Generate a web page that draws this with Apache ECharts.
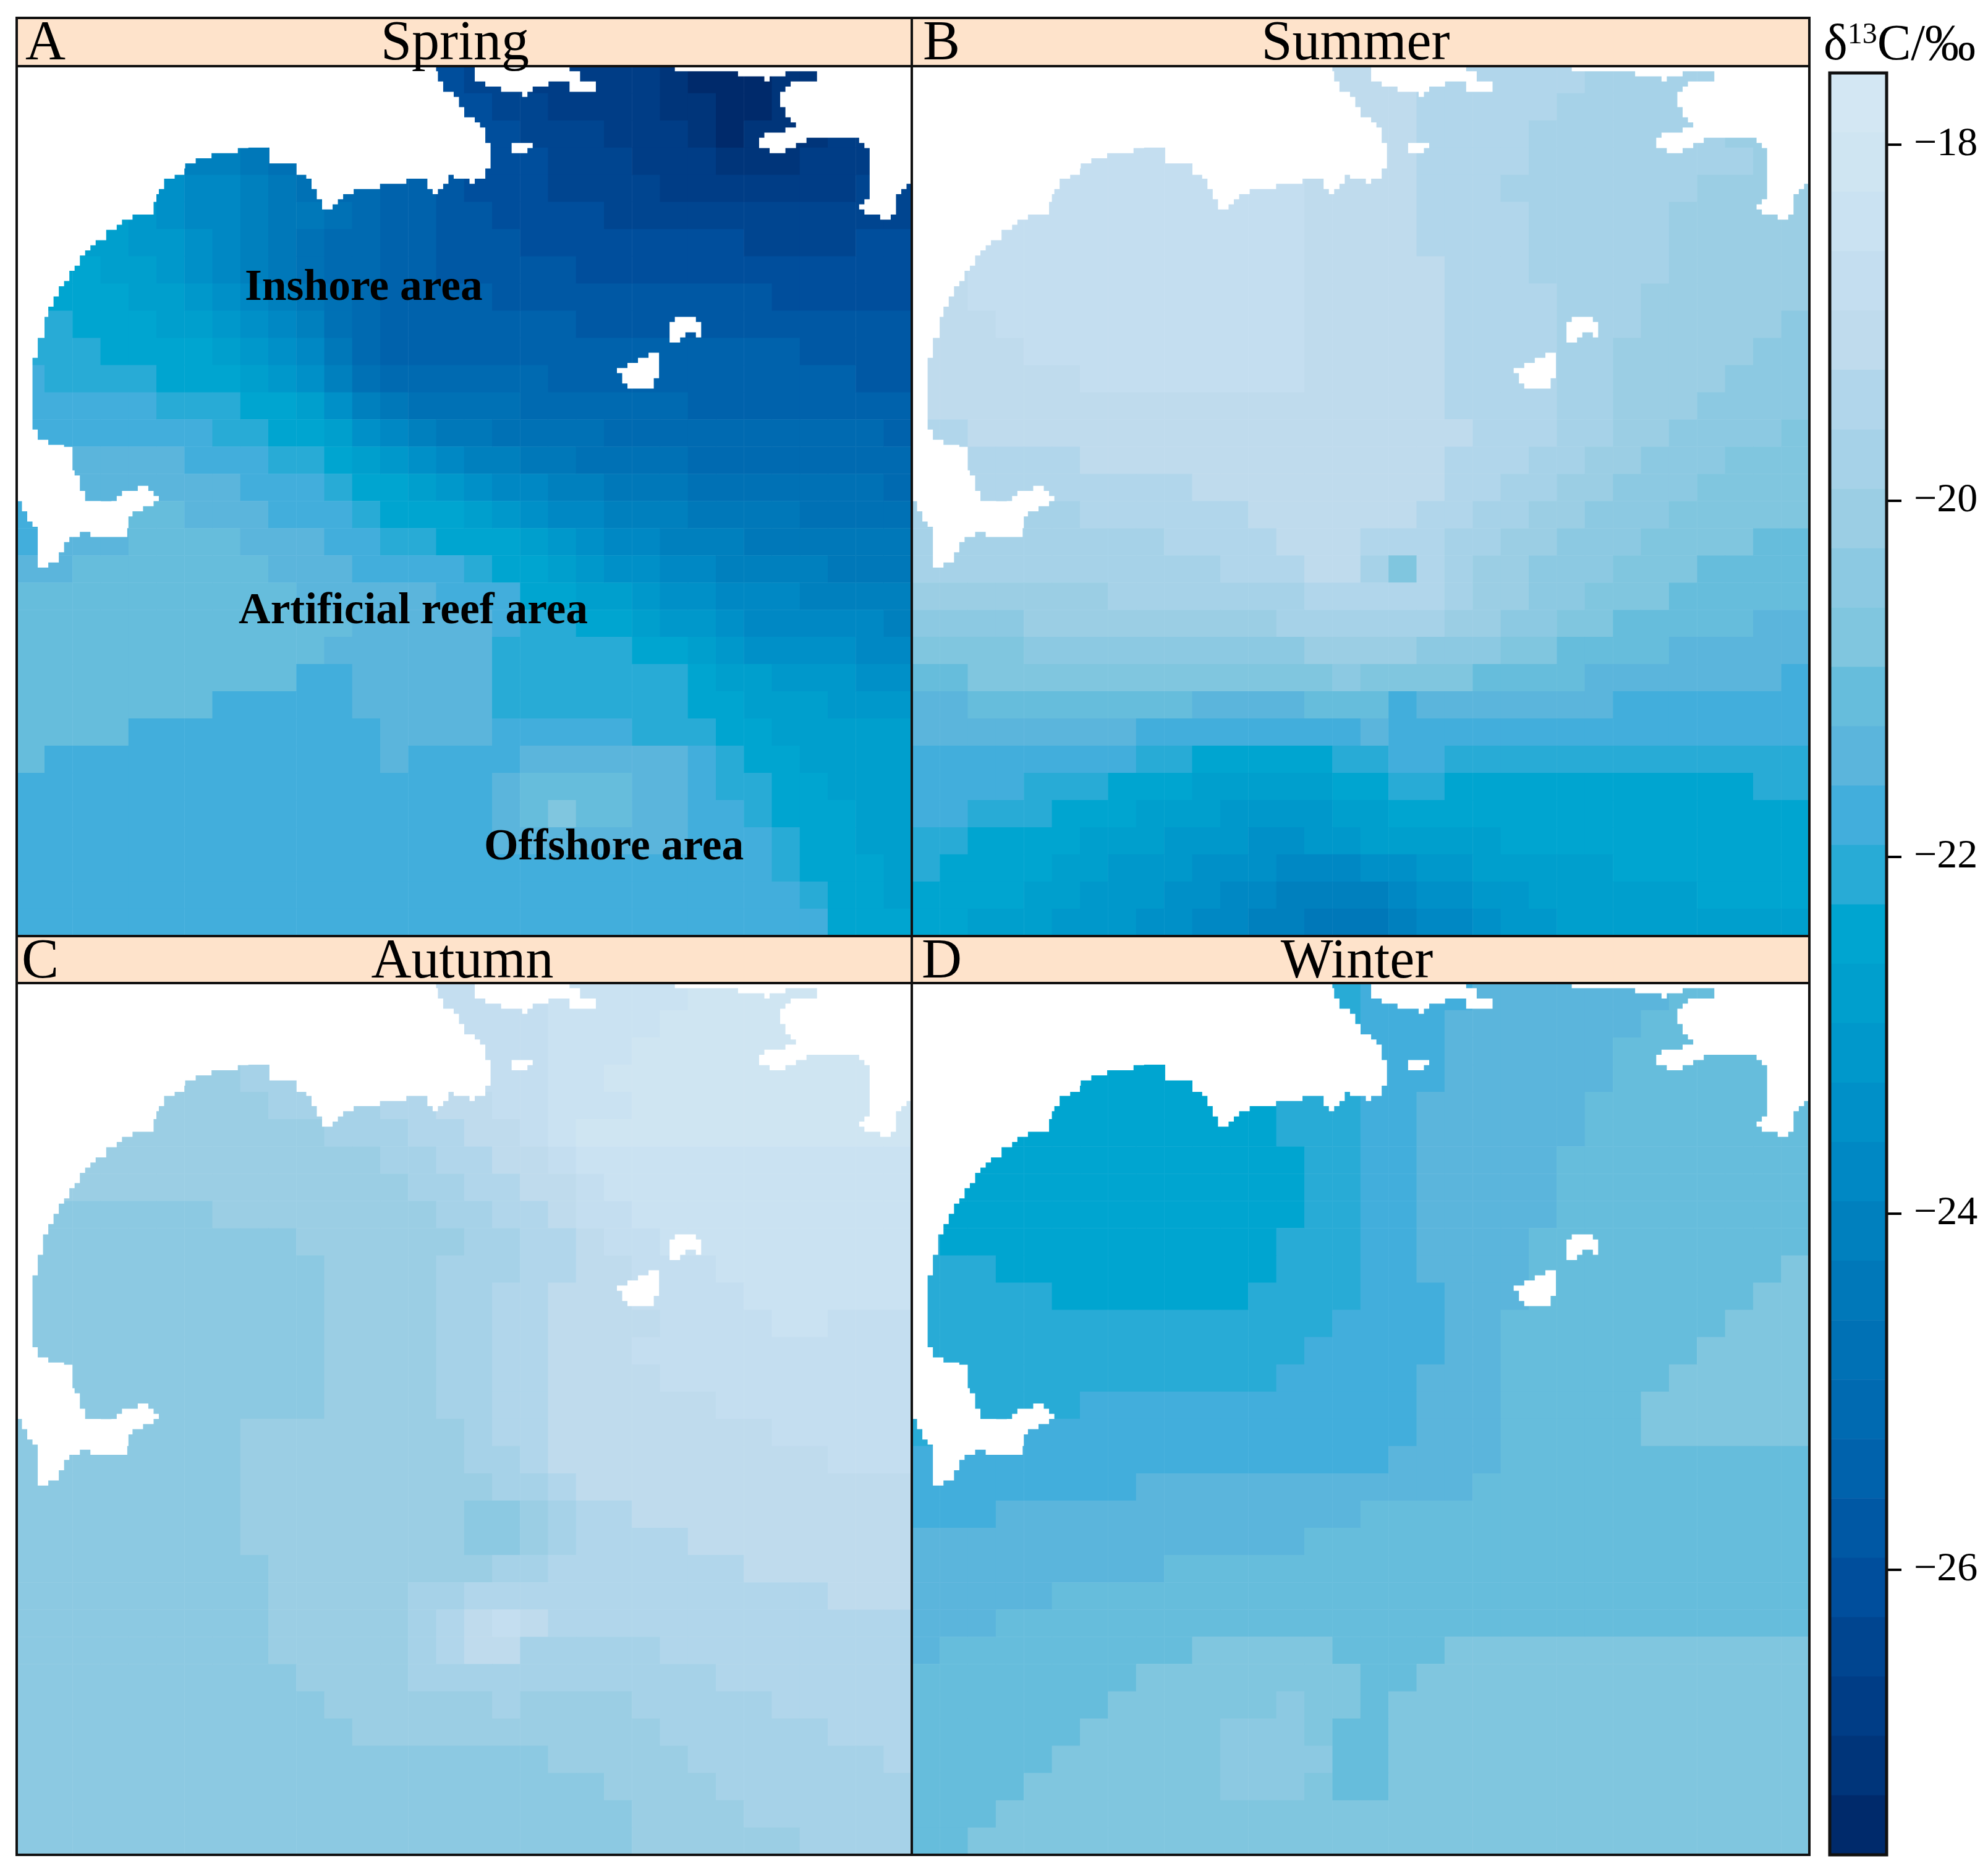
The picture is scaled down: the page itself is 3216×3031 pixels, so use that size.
<!DOCTYPE html>
<html>
<head>
<meta charset="utf-8">
<style>html,body{margin:0;background:#fff}#chart{width:3216px;height:3031px}</style>
<script src="https://cdn.jsdelivr.net/npm/echarts@6/dist/echarts.min.js"></script>
</head>
<body>
<div id="chart"></div>
<script>
// δ13C x 10 on a 32 x 32 grid, first row = north. 0 = land, no value
const spring = [
[0,0,0,0,0,0,0,0,0,0,0,0,0,0,0,-261,-264,-264,-268,-268,-268,-268,-268,-271,-274,-274,-274,-271,-271,0,0,0],
[0,0,0,0,0,0,0,0,0,0,0,0,0,0,0,-261,-261,-264,-264,-268,-268,-268,-268,-271,-271,-274,-274,-271,-271,0,0,0],
[0,0,0,0,0,0,0,0,0,0,0,0,0,0,0,0,-261,-261,-264,-264,-264,-268,-268,-268,-271,-274,-271,-271,-271,-268,-268,-268],
[0,0,0,0,0,0,-241,-241,-244,-248,0,0,0,0,0,0,-261,-261,-261,-264,-264,-264,-268,-268,-268,-271,-271,-271,-268,-268,-268,-268],
[0,0,0,0,0,-234,-238,-238,-241,-244,-248,-251,-251,-254,-254,-258,-261,-261,-261,-264,-264,-264,-264,-268,-268,-268,-268,-268,-268,-268,-264,-264],
[0,0,0,-228,-231,-234,-238,-238,-241,-244,-244,-248,-251,-254,-254,-258,-258,-261,-261,-261,-261,-264,-264,-264,-264,-264,-264,-264,-264,-264,-264,-264],
[0,0,-228,-228,-231,-231,-234,-238,-241,-244,-248,-251,-251,-254,-254,-258,-258,-258,-261,-261,-261,-261,-261,-261,-261,-261,-264,-264,-264,-264,-261,-261],
[0,-224,-224,-228,-228,-231,-234,-238,-241,-244,-248,-251,-251,-254,-254,-258,-258,-258,-258,-258,-261,-261,-261,-261,-261,-261,-261,-261,-261,-261,-261,-261],
[0,-224,-224,-224,-228,-228,-231,-234,-238,-241,-244,-248,-251,-254,-254,-254,-254,-258,-258,-258,-258,-258,-258,-258,-258,-258,-258,-261,-261,-261,-261,-261],
[0,-221,-224,-224,-224,-228,-228,-231,-234,-238,-241,-248,-251,-254,-254,-254,-254,-254,-254,-254,-258,-258,-258,-258,-258,-258,-258,-258,-258,-258,-258,-258],
[-221,-221,-221,-224,-224,-224,-224,-228,-231,-234,-238,-244,-251,-254,-254,-254,-254,-254,-254,-254,-254,-254,-254,-254,-254,-254,-254,-254,-258,-258,-258,-258],
[-218,-221,-221,-221,-221,-224,-224,-224,-228,-231,-234,-241,-248,-251,-251,-251,-251,-251,-251,-254,-254,-254,-254,-254,-254,-254,-254,-254,-254,-254,-258,-258],
[-218,-218,-218,-218,-218,-221,-221,-221,-224,-224,-228,-234,-241,-244,-248,-248,-248,-248,-251,-251,-251,-251,-251,-251,-254,-254,-254,-254,-254,-254,-254,-254],
[-218,-218,-218,-218,-218,-218,-218,-221,-221,-224,-224,-228,-234,-238,-241,-244,-244,-248,-248,-248,-248,-251,-251,-251,-251,-251,-251,-251,-251,-251,-251,-254],
[0,0,-214,-214,-214,-214,-218,-218,-218,-221,-221,-224,-228,-231,-234,-238,-241,-241,-244,-244,-248,-248,-248,-248,-251,-251,-251,-251,-251,-251,-251,-251],
[0,0,-214,-214,-214,-214,-214,-214,-218,-218,-218,-221,-224,-224,-228,-231,-234,-238,-238,-241,-241,-244,-244,-244,-248,-248,-248,-248,-248,-248,-248,-251],
[-218,0,0,0,-211,-211,-214,-214,-214,-218,-218,-218,-221,-224,-224,-224,-228,-231,-234,-238,-238,-241,-241,-241,-244,-244,-244,-244,-248,-248,-248,-248],
[-218,-214,-214,-214,-211,-211,-211,-211,-214,-214,-214,-218,-218,-221,-221,-224,-224,-224,-228,-231,-234,-238,-238,-241,-241,-241,-244,-244,-244,-244,-244,-244],
[-214,-214,-211,-211,-211,-211,-211,-211,-211,-214,-214,-214,-218,-218,-218,-218,-221,-224,-224,-228,-231,-234,-234,-238,-238,-241,-241,-241,-241,-244,-244,-244],
[-211,-211,-211,-211,-211,-211,-211,-211,-211,-211,-214,-214,-214,-214,-214,-218,-218,-218,-224,-224,-228,-228,-231,-234,-234,-238,-238,-238,-241,-241,-241,-241],
[-211,-211,-211,-211,-211,-211,-211,-211,-211,-211,-211,-211,-214,-214,-214,-214,-214,-218,-221,-221,-224,-224,-228,-231,-231,-234,-238,-238,-238,-238,-238,-241],
[-211,-211,-211,-211,-211,-211,-211,-211,-211,-211,-211,-214,-214,-214,-214,-214,-214,-221,-221,-221,-221,-221,-224,-224,-228,-231,-234,-234,-234,-234,-238,-238],
[-211,-211,-211,-211,-211,-211,-211,-211,-211,-211,-218,-218,-214,-214,-214,-214,-214,-221,-221,-221,-221,-221,-221,-221,-224,-228,-228,-231,-231,-231,-234,-234],
[-211,-211,-211,-211,-211,-211,-211,-218,-218,-218,-218,-218,-214,-214,-214,-214,-214,-221,-221,-221,-221,-221,-221,-221,-224,-224,-228,-228,-228,-231,-231,-231],
[-211,-211,-211,-211,-218,-218,-218,-218,-218,-218,-218,-218,-218,-214,-214,-214,-214,-218,-218,-218,-218,-218,-221,-221,-221,-224,-224,-228,-228,-228,-228,-228],
[-211,-218,-218,-218,-218,-218,-218,-218,-218,-218,-218,-218,-218,-214,-218,-218,-218,-218,-214,-214,-214,-214,-214,-214,-218,-221,-224,-224,-228,-228,-228,-228],
[-218,-218,-218,-218,-218,-218,-218,-218,-218,-218,-218,-218,-218,-218,-218,-218,-218,-214,-211,-211,-211,-211,-214,-214,-218,-221,-221,-224,-224,-228,-228,-228],
[-218,-218,-218,-218,-218,-218,-218,-218,-218,-218,-218,-218,-218,-218,-218,-218,-218,-214,-211,-208,-211,-211,-214,-214,-218,-218,-221,-224,-224,-224,-228,-228],
[-218,-218,-218,-218,-218,-218,-218,-218,-218,-218,-218,-218,-218,-218,-218,-218,-218,-214,-214,-214,-214,-214,-214,-214,-218,-218,-218,-221,-224,-224,-228,-228],
[-218,-218,-218,-218,-218,-218,-218,-218,-218,-218,-218,-218,-218,-218,-218,-218,-218,-218,-218,-218,-218,-218,-218,-218,-218,-218,-218,-221,-224,-224,-224,-228],
[-218,-218,-218,-218,-218,-218,-218,-218,-218,-218,-218,-218,-218,-218,-218,-218,-218,-218,-218,-218,-218,-218,-218,-218,-218,-218,-218,-218,-221,-224,-224,-228],
[-218,-218,-218,-218,-218,-218,-218,-218,-218,-218,-218,-218,-218,-218,-218,-218,-218,-218,-218,-218,-218,-218,-218,-218,-218,-218,-218,-218,-218,-224,-224,-224]
]
const summer = [
[0,0,0,0,0,0,0,0,0,0,0,0,0,0,0,-191,-191,-191,-194,-194,-194,-194,-194,-194,-198,-198,-198,-198,-198,0,0,0],
[0,0,0,0,0,0,0,0,0,0,0,0,0,0,0,-191,-191,-191,-194,-194,-194,-194,-194,-198,-198,-198,-198,-198,-198,0,0,0],
[0,0,0,0,0,0,0,0,0,0,0,0,0,0,0,0,-191,-191,-194,-194,-194,-194,-198,-198,-198,-198,-198,-198,-198,-201,-201,-201],
[0,0,0,0,0,0,-188,-188,-188,-188,0,0,0,0,0,0,-191,-191,-194,-194,-194,-194,-198,-198,-198,-198,-198,-198,-198,-198,-201,-201],
[0,0,0,0,0,-188,-188,-188,-188,-188,-188,-188,-188,-188,-191,-191,-191,-191,-194,-194,-194,-198,-198,-198,-198,-198,-198,-198,-201,-201,-201,-201],
[0,0,0,-188,-188,-188,-188,-188,-188,-188,-188,-188,-188,-188,-191,-191,-191,-191,-194,-194,-194,-194,-198,-198,-198,-198,-198,-201,-201,-201,-201,-201],
[0,0,-188,-188,-188,-188,-188,-188,-188,-188,-188,-188,-188,-188,-191,-191,-191,-191,-194,-194,-194,-194,-198,-198,-198,-198,-198,-201,-201,-201,-201,-201],
[0,-191,-188,-188,-188,-188,-188,-188,-188,-188,-188,-188,-188,-188,-191,-191,-191,-191,-191,-194,-194,-194,-198,-198,-198,-198,-198,-201,-201,-201,-201,-201],
[0,-191,-188,-188,-188,-188,-188,-188,-188,-188,-188,-188,-188,-188,-191,-191,-191,-191,-191,-194,-194,-194,-194,-198,-198,-198,-201,-201,-201,-201,-201,-201],
[0,-191,-191,-188,-188,-188,-188,-188,-188,-188,-188,-188,-188,-188,-191,-191,-191,-191,-191,-194,-194,-194,-194,-198,-198,-198,-201,-201,-201,-201,-201,-204],
[-191,-191,-191,-191,-188,-188,-188,-188,-188,-188,-188,-188,-188,-188,-191,-191,-191,-191,-191,-194,-194,-194,-194,-198,-198,-201,-201,-201,-201,-201,-204,-204],
[-191,-191,-191,-191,-191,-191,-188,-188,-188,-188,-188,-188,-188,-188,-191,-191,-191,-191,-191,-194,-194,-194,-194,-198,-198,-201,-201,-201,-201,-204,-204,-204],
[-191,-191,-191,-191,-191,-191,-191,-191,-191,-191,-191,-191,-191,-191,-191,-191,-191,-191,-191,-194,-194,-194,-194,-198,-198,-201,-201,-201,-204,-204,-204,-204],
[-194,-194,-191,-191,-191,-191,-191,-191,-191,-191,-191,-191,-191,-191,-191,-191,-191,-191,-191,-191,-194,-194,-194,-198,-198,-201,-201,-204,-204,-204,-204,-208],
[0,0,-194,-194,-194,-194,-191,-191,-191,-191,-191,-191,-191,-191,-191,-191,-191,-191,-191,-194,-194,-194,-198,-198,-201,-201,-204,-204,-204,-208,-208,-208],
[0,0,-194,-194,-194,-194,-194,-194,-194,-194,-191,-191,-191,-191,-191,-191,-191,-191,-191,-194,-194,-198,-198,-201,-201,-204,-204,-204,-208,-208,-208,-208],
[-198,0,0,0,-198,-198,-194,-194,-194,-194,-194,-194,-191,-191,-191,-191,-191,-191,-194,-194,-198,-198,-201,-201,-204,-204,-204,-208,-208,-208,-208,-208],
[-198,-198,-198,-198,-198,-198,-198,-198,-198,-194,-194,-194,-194,-191,-191,-191,-194,-194,-194,-198,-198,-201,-201,-204,-204,-204,-208,-208,-208,-208,-211,-211],
[-198,-198,-198,-198,-198,-198,-198,-198,-198,-198,-198,-194,-194,-194,-191,-191,-198,-208,-194,-198,-201,-201,-204,-204,-204,-208,-208,-208,-211,-211,-211,-211],
[-201,-201,-201,-201,-201,-201,-201,-198,-198,-198,-198,-198,-198,-198,-194,-194,-194,-194,-194,-198,-201,-201,-204,-204,-208,-208,-208,-211,-211,-211,-211,-211],
[-204,-204,-204,-204,-201,-201,-201,-201,-201,-201,-201,-201,-201,-198,-198,-198,-198,-198,-198,-201,-201,-204,-204,-208,-208,-211,-211,-211,-211,-211,-214,-214],
[-208,-208,-208,-208,-204,-204,-204,-204,-204,-204,-204,-204,-204,-204,-201,-201,-201,-201,-204,-204,-204,-208,-208,-211,-211,-211,-211,-214,-214,-214,-214,-214],
[-211,-211,-208,-208,-208,-208,-208,-208,-208,-208,-208,-208,-208,-208,-208,-204,-208,-208,-208,-208,-211,-211,-211,-211,-214,-214,-214,-214,-214,-214,-214,-218],
[-214,-214,-211,-211,-211,-211,-211,-211,-211,-211,-214,-214,-214,-214,-211,-211,-211,-218,-214,-214,-214,-214,-214,-214,-214,-218,-218,-218,-218,-218,-218,-218],
[-214,-214,-214,-214,-214,-214,-214,-214,-218,-218,-218,-218,-218,-218,-218,-218,-214,-218,-218,-218,-218,-218,-218,-218,-218,-218,-218,-218,-218,-218,-218,-218],
[-218,-218,-218,-218,-218,-218,-218,-218,-221,-221,-224,-224,-224,-224,-224,-221,-221,-218,-218,-221,-221,-221,-221,-221,-221,-221,-221,-221,-221,-221,-221,-221],
[-218,-218,-218,-218,-221,-221,-221,-224,-224,-224,-228,-228,-228,-228,-228,-224,-224,-221,-221,-224,-224,-224,-224,-224,-224,-224,-224,-224,-224,-224,-221,-221],
[-218,-218,-221,-221,-221,-224,-224,-224,-228,-228,-228,-231,-231,-231,-231,-228,-228,-224,-224,-224,-224,-224,-224,-224,-224,-224,-224,-224,-224,-224,-224,-224],
[-221,-221,-224,-224,-224,-224,-228,-228,-228,-231,-231,-231,-234,-234,-231,-231,-228,-228,-228,-228,-228,-224,-224,-224,-224,-224,-224,-224,-224,-224,-224,-224],
[-221,-224,-224,-224,-224,-228,-228,-231,-231,-231,-234,-234,-234,-238,-238,-238,-234,-234,-231,-231,-228,-228,-228,-228,-228,-224,-224,-224,-224,-224,-224,-224],
[-224,-224,-224,-224,-228,-228,-231,-231,-231,-234,-234,-238,-238,-241,-241,-241,-241,-238,-234,-234,-231,-231,-228,-228,-228,-228,-228,-228,-224,-224,-224,-224],
[-224,-224,-228,-228,-228,-231,-231,-231,-234,-234,-238,-238,-241,-241,-244,-244,-244,-241,-238,-238,-234,-231,-231,-228,-228,-228,-228,-228,-228,-228,-228,-228]
]
const autumn = [
[0,0,0,0,0,0,0,0,0,0,0,0,0,0,0,-188,-188,-188,-188,-184,-184,-184,-184,-184,-181,-181,-181,-181,-181,0,0,0],
[0,0,0,0,0,0,0,0,0,0,0,0,0,0,0,-188,-188,-188,-188,-184,-184,-184,-184,-181,-181,-181,-181,-181,-181,0,0,0],
[0,0,0,0,0,0,0,0,0,0,0,0,0,0,0,0,-188,-188,-188,-184,-184,-184,-181,-181,-181,-181,-181,-181,-181,-181,-181,-181],
[0,0,0,0,0,0,-201,-201,-198,-198,0,0,0,0,0,0,-188,-188,-188,-184,-184,-181,-181,-181,-181,-181,-181,-181,-181,-181,-181,-181],
[0,0,0,0,0,-201,-201,-201,-201,-198,-198,-198,-198,-194,-194,-191,-191,-188,-188,-184,-184,-184,-181,-181,-181,-181,-181,-181,-181,-181,-181,-181],
[0,0,0,-201,-201,-201,-201,-201,-201,-201,-201,-198,-198,-198,-194,-194,-191,-191,-188,-184,-181,-181,-181,-181,-181,-181,-181,-181,-181,-181,-181,-181],
[0,0,-201,-201,-201,-201,-201,-201,-201,-201,-201,-201,-201,-198,-198,-194,-194,-191,-191,-188,-184,-184,-184,-184,-184,-184,-184,-184,-184,-184,-184,-184],
[0,-201,-201,-201,-201,-201,-201,-201,-201,-201,-201,-201,-201,-201,-198,-198,-194,-194,-191,-191,-188,-184,-184,-184,-184,-184,-184,-184,-184,-184,-184,-184],
[0,-204,-204,-204,-204,-204,-204,-201,-201,-201,-201,-201,-201,-201,-201,-198,-198,-194,-194,-191,-188,-188,-184,-184,-184,-184,-184,-184,-184,-184,-184,-184],
[-204,-204,-204,-204,-204,-204,-204,-204,-204,-204,-201,-201,-201,-201,-201,-201,-198,-198,-194,-194,-191,-188,-188,-184,-184,-184,-184,-184,-184,-184,-184,-184],
[-204,-204,-204,-204,-204,-204,-204,-204,-204,-204,-204,-201,-201,-201,-201,-198,-198,-198,-194,-194,-191,-191,-188,-188,-188,-184,-184,-184,-184,-184,-184,-184],
[-204,-204,-204,-204,-204,-204,-204,-204,-204,-204,-204,-201,-201,-201,-201,-198,-198,-194,-194,-191,-191,-191,-188,-188,-188,-188,-184,-184,-184,-184,-184,-184],
[-204,-204,-204,-204,-204,-204,-204,-204,-204,-204,-204,-201,-201,-201,-201,-198,-198,-194,-194,-191,-191,-191,-191,-188,-188,-188,-188,-184,-184,-188,-188,-188],
[-204,-204,-204,-204,-204,-204,-204,-204,-204,-204,-204,-201,-201,-201,-201,-198,-198,-194,-194,-191,-191,-191,-188,-188,-188,-188,-188,-188,-188,-188,-188,-188],
[0,0,-204,-204,-204,-204,-204,-204,-204,-204,-204,-201,-201,-201,-201,-198,-198,-194,-194,-191,-191,-191,-191,-188,-188,-188,-188,-188,-188,-188,-188,-188],
[0,0,-204,-204,-204,-204,-204,-204,-204,-204,-204,-201,-201,-201,-201,-198,-198,-194,-194,-191,-191,-191,-191,-191,-191,-188,-188,-188,-188,-188,-188,-188],
[-204,0,0,0,-204,-204,-204,-204,-201,-201,-201,-201,-201,-201,-201,-201,-198,-194,-194,-191,-191,-191,-191,-191,-191,-191,-191,-188,-188,-188,-188,-188],
[-204,-204,-204,-204,-204,-204,-204,-204,-201,-201,-201,-201,-201,-201,-201,-201,-198,-198,-194,-191,-191,-191,-191,-191,-191,-191,-191,-191,-191,-188,-188,-188],
[-204,-204,-204,-204,-204,-204,-204,-204,-201,-201,-201,-201,-201,-201,-201,-201,-201,-198,-198,-194,-191,-191,-191,-191,-191,-191,-191,-191,-191,-191,-191,-191],
[-204,-204,-204,-204,-204,-204,-204,-204,-201,-201,-201,-201,-201,-201,-201,-201,-204,-204,-201,-198,-194,-194,-191,-191,-191,-191,-191,-191,-191,-191,-191,-191],
[-204,-204,-204,-204,-204,-204,-204,-204,-201,-201,-201,-201,-201,-201,-201,-201,-204,-204,-201,-198,-194,-194,-194,-194,-191,-191,-191,-191,-191,-191,-191,-191],
[-204,-204,-204,-204,-204,-204,-204,-204,-204,-201,-201,-201,-201,-201,-201,-201,-201,-198,-198,-194,-194,-194,-194,-194,-194,-194,-191,-191,-191,-191,-191,-191],
[-204,-204,-204,-204,-204,-204,-204,-204,-204,-201,-201,-201,-201,-201,-198,-198,-194,-194,-194,-194,-194,-194,-194,-194,-194,-194,-194,-194,-194,-191,-191,-191],
[-204,-204,-204,-204,-204,-204,-204,-204,-204,-201,-201,-201,-201,-201,-198,-194,-191,-188,-191,-194,-194,-194,-194,-194,-194,-194,-194,-194,-194,-194,-194,-194],
[-204,-204,-204,-204,-204,-204,-204,-204,-204,-201,-201,-201,-201,-201,-198,-194,-191,-191,-198,-198,-198,-198,-198,-194,-194,-194,-194,-194,-194,-194,-194,-194],
[-204,-204,-204,-204,-204,-204,-204,-204,-204,-204,-201,-201,-201,-201,-198,-198,-198,-198,-198,-198,-198,-198,-198,-198,-198,-194,-194,-194,-194,-194,-194,-194],
[-204,-204,-204,-204,-204,-204,-204,-204,-204,-204,-204,-201,-201,-201,-201,-201,-201,-198,-201,-201,-201,-201,-198,-198,-198,-198,-198,-194,-194,-194,-194,-194],
[-204,-204,-204,-204,-204,-204,-204,-204,-204,-204,-204,-204,-201,-201,-201,-201,-201,-201,-201,-201,-201,-201,-201,-198,-198,-198,-198,-198,-198,-194,-194,-194],
[-204,-204,-204,-204,-204,-204,-204,-204,-204,-204,-204,-204,-204,-204,-204,-204,-204,-204,-204,-201,-201,-201,-201,-201,-198,-198,-198,-198,-198,-198,-198,-194],
[-204,-204,-204,-204,-204,-204,-204,-204,-204,-204,-204,-204,-204,-204,-204,-204,-204,-204,-204,-204,-204,-201,-201,-201,-201,-198,-198,-198,-198,-198,-198,-198],
[-204,-204,-204,-204,-204,-204,-204,-204,-204,-204,-204,-204,-204,-204,-204,-204,-204,-204,-204,-204,-204,-204,-201,-201,-201,-201,-198,-198,-198,-198,-198,-198],
[-204,-204,-204,-204,-204,-204,-204,-204,-204,-204,-204,-204,-204,-204,-204,-204,-204,-204,-204,-204,-204,-204,-201,-201,-201,-201,-201,-201,-198,-198,-198,-198]
]
const winter = [
[0,0,0,0,0,0,0,0,0,0,0,0,0,0,0,-221,-218,-218,-218,-218,-214,-214,-214,-214,-214,-214,-214,-211,-211,0,0,0],
[0,0,0,0,0,0,0,0,0,0,0,0,0,0,0,-221,-218,-218,-218,-214,-214,-214,-214,-214,-214,-214,-211,-211,-211,0,0,0],
[0,0,0,0,0,0,0,0,0,0,0,0,0,0,0,0,-218,-218,-218,-214,-214,-214,-214,-214,-214,-211,-211,-211,-211,-211,-211,-211],
[0,0,0,0,0,0,-224,-224,-224,-224,0,0,0,0,0,0,-218,-218,-218,-214,-214,-214,-214,-214,-214,-211,-211,-211,-211,-211,-211,-211],
[0,0,0,0,0,-224,-224,-224,-224,-224,-224,-224,-224,-221,-221,-221,-218,-218,-214,-214,-214,-214,-214,-214,-211,-211,-211,-211,-211,-211,-211,-211],
[0,0,0,-224,-224,-224,-224,-224,-224,-224,-224,-224,-224,-221,-221,-221,-218,-218,-214,-214,-214,-214,-214,-214,-211,-211,-211,-211,-211,-211,-211,-211],
[0,0,-224,-224,-224,-224,-224,-224,-224,-224,-224,-224,-224,-224,-221,-221,-218,-218,-214,-214,-214,-214,-214,-211,-211,-211,-211,-211,-211,-211,-211,-211],
[0,-224,-224,-224,-224,-224,-224,-224,-224,-224,-224,-224,-224,-224,-221,-221,-218,-218,-214,-214,-214,-214,-214,-211,-211,-211,-211,-211,-211,-211,-211,-211],
[0,-224,-224,-224,-224,-224,-224,-224,-224,-224,-224,-224,-224,-224,-221,-221,-218,-218,-214,-214,-214,-214,-214,-211,-211,-211,-211,-211,-211,-211,-211,-211],
[-221,-224,-224,-224,-224,-224,-224,-224,-224,-224,-224,-224,-224,-221,-221,-221,-218,-218,-214,-214,-214,-214,-211,-211,-211,-211,-211,-211,-211,-211,-211,-211],
[-221,-221,-221,-224,-224,-224,-224,-224,-224,-224,-224,-224,-224,-221,-221,-221,-218,-218,-214,-214,-214,-214,-211,-211,-211,-211,-211,-211,-211,-211,-211,-208],
[-221,-221,-221,-221,-221,-224,-224,-224,-224,-224,-224,-224,-221,-221,-221,-221,-218,-218,-218,-214,-214,-214,-211,-211,-211,-211,-211,-211,-211,-211,-208,-208],
[-221,-221,-221,-221,-221,-221,-221,-221,-221,-221,-221,-221,-221,-221,-221,-218,-218,-218,-218,-214,-214,-211,-211,-211,-211,-211,-211,-211,-211,-208,-208,-208],
[-221,-221,-221,-221,-221,-221,-221,-221,-221,-221,-221,-221,-221,-221,-218,-218,-218,-218,-218,-214,-214,-211,-211,-211,-211,-211,-211,-211,-208,-208,-208,-208],
[0,0,-221,-221,-221,-221,-221,-221,-221,-221,-221,-221,-221,-218,-218,-218,-218,-218,-214,-214,-214,-211,-211,-211,-211,-211,-211,-208,-208,-208,-208,-208],
[0,0,-221,-221,-221,-221,-218,-218,-218,-218,-218,-218,-218,-218,-218,-218,-218,-218,-214,-214,-214,-211,-211,-211,-211,-211,-208,-208,-208,-208,-208,-208],
[-221,0,0,0,-218,-218,-218,-218,-218,-218,-218,-218,-218,-218,-218,-218,-218,-218,-214,-214,-214,-211,-211,-211,-211,-211,-208,-208,-208,-208,-208,-208],
[-218,-218,-218,-218,-218,-218,-218,-218,-218,-218,-218,-218,-218,-218,-218,-218,-218,-214,-214,-214,-214,-211,-211,-211,-211,-211,-211,-211,-211,-211,-211,-211],
[-218,-218,-218,-218,-218,-218,-218,-218,-214,-214,-214,-214,-214,-214,-214,-214,-214,-214,-214,-214,-211,-211,-211,-211,-211,-211,-211,-211,-211,-211,-211,-211],
[-218,-218,-218,-214,-214,-214,-214,-214,-214,-214,-214,-214,-214,-214,-214,-214,-211,-211,-211,-211,-211,-211,-211,-211,-211,-211,-211,-211,-211,-211,-211,-211],
[-214,-214,-214,-214,-214,-214,-214,-214,-214,-214,-214,-214,-214,-214,-211,-211,-211,-211,-211,-211,-211,-211,-211,-211,-211,-211,-211,-211,-211,-211,-211,-211],
[-214,-214,-214,-214,-214,-214,-214,-214,-214,-211,-211,-211,-211,-211,-211,-211,-211,-211,-211,-211,-211,-211,-211,-211,-211,-211,-211,-211,-211,-211,-211,-211],
[-214,-214,-214,-214,-214,-211,-211,-211,-211,-211,-211,-211,-211,-211,-211,-211,-211,-211,-211,-211,-211,-211,-211,-211,-211,-211,-211,-211,-211,-211,-211,-211],
[-214,-214,-214,-211,-211,-211,-211,-211,-211,-211,-211,-211,-211,-211,-211,-211,-211,-211,-211,-211,-211,-211,-211,-211,-211,-211,-211,-211,-211,-211,-211,-211],
[-214,-211,-211,-211,-211,-211,-211,-211,-211,-211,-208,-208,-208,-208,-208,-211,-211,-211,-211,-208,-208,-208,-208,-208,-208,-208,-208,-208,-208,-208,-208,-208],
[-211,-211,-211,-211,-211,-211,-211,-211,-208,-208,-208,-208,-208,-208,-208,-208,-211,-211,-208,-208,-208,-208,-208,-208,-208,-208,-208,-208,-208,-208,-208,-208],
[-211,-211,-211,-211,-211,-211,-211,-208,-208,-208,-208,-208,-208,-204,-208,-208,-211,-208,-208,-208,-208,-208,-208,-208,-208,-208,-208,-208,-208,-208,-208,-208],
[-211,-211,-211,-211,-211,-211,-208,-208,-208,-208,-208,-204,-204,-204,-208,-211,-211,-208,-208,-208,-208,-208,-208,-208,-208,-208,-208,-208,-208,-208,-208,-208],
[-211,-211,-211,-211,-211,-208,-208,-208,-208,-208,-208,-204,-204,-204,-204,-211,-211,-208,-208,-208,-208,-208,-208,-208,-208,-208,-208,-208,-208,-208,-208,-208],
[-211,-211,-211,-211,-208,-208,-208,-208,-208,-208,-208,-204,-204,-204,-208,-211,-211,-208,-208,-208,-208,-208,-208,-208,-208,-208,-208,-208,-208,-208,-208,-208],
[-211,-211,-211,-208,-208,-208,-208,-208,-208,-208,-208,-208,-208,-208,-208,-208,-208,-208,-208,-208,-208,-208,-208,-208,-208,-208,-208,-208,-208,-208,-208,-208],
[-211,-211,-208,-208,-208,-208,-208,-208,-208,-208,-208,-208,-208,-208,-208,-208,-208,-208,-208,-208,-208,-208,-208,-208,-208,-208,-208,-208,-208,-208,-208,-208]
]

// land outlines, per mille of the map frame
const coastMain = [[0,0],[464,0],[477,27],[493,40],[500,58],[520,68],[523,89],[530,93],[530,110],[523,128],[513,133],[490,126],[470,145],[464,152],[460,131],[444,131],[418,136],[378,145],[361,156],[347,165],[338,149],[328,131],[319,110],[282,110],[282,86],[266,84],[256,96],[230,100],[206,108],[193,114],[157,145],[154,170],[134,171],[108,189],[81,210],[65,236],[48,257],[35,285],[25,316],[18,344],[18,400],[23,431],[48,437],[58,463],[71,477],[76,498],[101,505],[117,487],[144,484],[157,501],[127,518],[121,539],[101,543],[84,536],[65,539],[45,571],[25,578],[22,532],[12,512],[2,498],[0,498]]
const coastTop = [[507,0],[516,20],[553,30],[563,33],[579,23],[615,16],[619,29],[645,30],[645,20],[632,13],[619,0]]
const islet = [[553,91],[576,87],[573,100],[553,102]]
const coastRight = [[728,0],[738,8],[794,6],[833,16],[866,6],[892,4],[892,16],[866,17],[846,44],[866,61],[869,72],[827,82],[827,96],[853,98],[879,86],[906,80],[939,86],[955,100],[955,128],[950,152],[942,163],[949,173],[978,174],[982,145],[1000,133],[1000,0]]
const islandN = [[728,316],[731,292],[747,288],[764,295],[767,306],[777,308],[764,309],[751,306],[741,318]]
const islandS = [[673,348],[698,334],[718,325],[721,344],[713,372],[685,370],[675,358]]
const landShapes = [coastMain, coastTop, islet, coastRight, islandN, islandS]

// colour bar: 30 classes from -17.6 down to -27.6
const bandColors = ['#D3E7F3','#CFE5F2','#CAE2F2','#C4DEF0','#BFDBED','#B1D6EB','#A6D2E8','#9BCEE4','#8CC9E2','#80C6DF','#66BDDC','#5BB5DC','#42AEDC','#28ABD6','#00A5D0','#009FCD','#0098CB','#0090C8','#0088C4','#0080BE','#0078B9','#0071B5','#006AB1','#0062AC','#0058A4','#004E9C','#004590','#003D86','#00357A','#002A6B']
const barTop = -17.6
const barBottom = -27.6
const barTicks = [-18, -20, -22, -24, -26]

const panelNames = ['Spring', 'Summer', 'Autumn', 'Winter']
const panelLetters = ['A', 'B', 'C', 'D']
const panelData = [spring, summer, autumn, winter]
const areaLabels = ['Inshore area', 'Artificial reef area', 'Offshore area']

const SERIF = '"Liberation Serif", serif'
const colX = [[27, 1475], [1475, 2927]]
const rowY = [[107, 1514], [1590, 3000]]
const headY = [[29, 107], [1514, 1590]]
const titleX = [736, 2193, 748, 2195]
const letterX = [41, 1493, 35, 1491]
const titleY = [72, 72, 1557, 1557]

const bandStep = (barTop - barBottom) / bandColors.length
const cellIdx = spring[0].map((_, i) => i)
const rowIdx = spring.map((_, i) => i)
const pieces = bandColors.map((color, k) => ({
	gte: barTop - (k + 1) * bandStep,
	lt: barTop - k * bandStep,
	color
}))
const barValues = bandColors.map((_, k) => barTop - (k + 0.5) * bandStep)

// the maps were rasters: walk an outline in steps of one raster pixel
const RASTER = 1000 / 170
function stairs(pts) {
	const snap = v => Math.round(v / RASTER) * RASTER
	const out = []
	pts.forEach((a, n) => {
		const b = pts[(n + 1) % pts.length]
		const steps = Math.max(1, Math.ceil(Math.max(Math.abs(b[0] - a[0]), Math.abs(b[1] - a[1])) / RASTER))
		let px = snap(a[0]), py = snap(a[1])
		for (let s = 1; s <= steps; s++) {
			const x = snap(a[0] + (b[0] - a[0]) * s / steps)
			const y = snap(a[1] + (b[1] - a[1]) * s / steps)
			out.push([px, py], [x, py])
			px = x
			py = y
		}
	})
	return out
}
const landSteps = landShapes.map(stairs)

const grid = [], xAxis = [], yAxis = [], series = [], graphic = []
panelData.forEach((rows, p) => {
	const c = colX[p % 2], r = rowY[p >> 1], h = headY[p >> 1]
	grid.push({ left: c[0], top: r[0], width: c[1] - c[0], height: r[1] - r[0], show: false })
	// category pair for the cells, value pair for the land outlines
	xAxis.push({ type: 'category', gridIndex: p, data: cellIdx, show: false })
	xAxis.push({ type: 'value', gridIndex: p, min: 0, max: 1000, show: false })
	yAxis.push({ type: 'category', gridIndex: p, data: rowIdx, inverse: true, show: false })
	yAxis.push({ type: 'value', gridIndex: p, min: 0, max: 1000, inverse: true, show: false })
	const cells = []
	rows.forEach((row, j) => row.forEach((v, i) => {
		if (v !== 0) cells.push([i, j, v / 10])
	}))
	series.push({
		type: 'heatmap', xAxisIndex: 2 * p, yAxisIndex: 2 * p, data: cells,
		progressive: 0, emphasis: { disabled: true }
	})
	series.push({
		type: 'custom', xAxisIndex: 2 * p + 1, yAxisIndex: 2 * p + 1, clip: true, z: 3,
		data: landSteps.map((_, i) => [i, i]),
		renderItem: (params, api) => ({
			type: 'polygon',
			shape: { points: landSteps[api.value(0)].map(pt => api.coord(pt)) },
			style: { fill: '#fff' }
		})
	})
	graphic.push({ type: 'rect', z: 10, shape: { x: c[0], y: h[0], width: c[1] - c[0], height: h[1] - h[0] }, style: { fill: '#FEE3CB', stroke: '#111', lineWidth: 4 } })
	graphic.push({ type: 'rect', z: 11, shape: { x: c[0], y: r[0], width: c[1] - c[0], height: r[1] - r[0] }, style: { fill: 'none', stroke: '#111', lineWidth: 4 } })
	graphic.push({ type: 'text', z: 12, style: { x: titleX[p], y: titleY[p], text: panelNames[p], font: '90px ' + SERIF, textAlign: 'center', textVerticalAlign: 'middle', fill: '#000' } })
	graphic.push({ type: 'text', z: 12, style: { x: letterX[p], y: titleY[p], text: panelLetters[p], font: '90px ' + SERIF, textAlign: 'left', textVerticalAlign: 'middle', fill: '#000' } })
})

// colour bar
grid.push({ left: 2960, top: 118, width: 92, height: 2882, show: false })
xAxis.push({ type: 'category', gridIndex: 4, data: [0], show: false })
yAxis.push({ type: 'category', gridIndex: 4, data: barValues.map((_, k) => k), inverse: true, show: false })
yAxis.push({
	type: 'value', gridIndex: 4, position: 'right', min: barBottom, max: barTop,
	axisLine: { show: false }, splitLine: { show: false },
	axisTick: { show: true, length: 24, customValues: barTicks, lineStyle: { color: '#000', width: 4 } },
	axisLabel: {
		show: true, customValues: barTicks, margin: 44, color: '#000',
		fontFamily: SERIF, fontSize: 66, formatter: v => '\u2212' + Math.abs(v)
	}
})
series.push({
	type: 'heatmap', xAxisIndex: 8, yAxisIndex: 8,
	data: barValues.map((v, k) => [0, k, v]),
	progressive: 0, emphasis: { disabled: true }
})
// keeps the value axis of the bar in use
series.push({ type: 'line', xAxisIndex: 8, yAxisIndex: 9, data: [], silent: true })
graphic.push({ type: 'rect', z: 11, shape: { x: 2960, y: 118, width: 92, height: 2882 }, style: { fill: 'none', stroke: '#111', lineWidth: 5 } })

// bar title and the area names in panel A
const barTitle = {
	text: '\u03B4{sup|13}C/\u2030', left: 2945, top: 28,
	textStyle: {
		fontFamily: SERIF, fontSize: 82, fontWeight: 'normal', color: '#000',
		rich: { sup: { fontFamily: SERIF, fontSize: 48, verticalAlign: 'top', lineHeight: 82, color: '#000' } }
	}
}
const labelX = [396, 386, 783]
const labelY = [467, 990, 1372]
areaLabels.forEach((text, i) => {
	graphic.push({ type: 'text', z: 12, style: { x: labelX[i], y: labelY[i], text, font: 'bold 71.5px ' + SERIF, textAlign: 'left', textVerticalAlign: 'middle', fill: '#000' } })
})

const chart = echarts.init(document.getElementById('chart'), null, { renderer: 'canvas' })
chart.setOption({
	animation: false,
	backgroundColor: '#fff',
	title: barTitle,
	visualMap: { type: 'piecewise', show: false, dimension: 2, seriesIndex: [0, 2, 4, 6, 8], pieces },
	grid, xAxis, yAxis, series, graphic
})
</script>
</body>
</html>
